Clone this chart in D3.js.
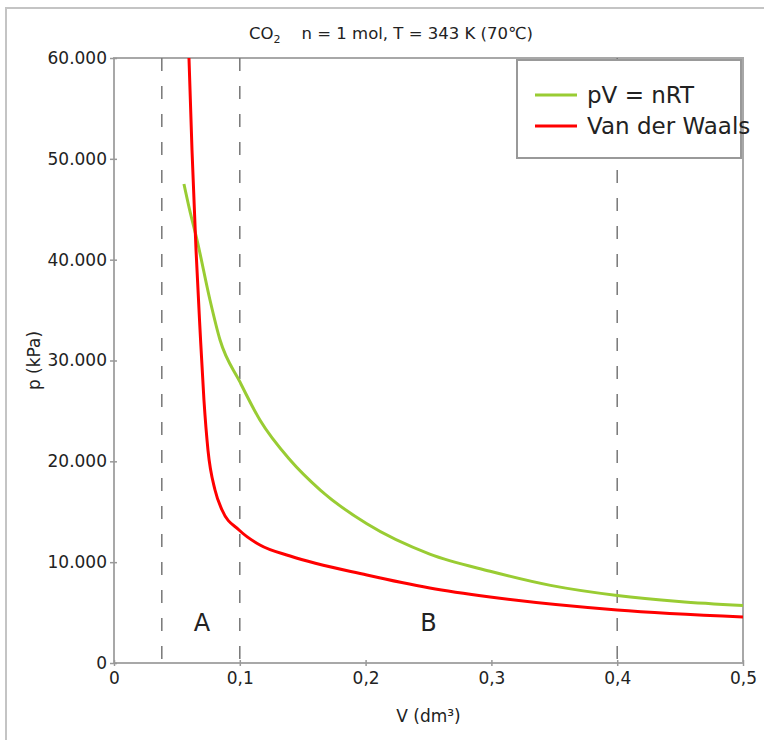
<!DOCTYPE html>
<html>
<head>
<meta charset="utf-8">
<script src="https://cdn.jsdelivr.net/npm/d3@7"></script>
<style>
	body { margin: 0; background: #fff; }
	svg text { font-family: 'DejaVu Sans', sans-serif; fill: #222; }
</style>
</head>
<body>
<div id="vis"></div>
<script>
// values (V in dm3, p in kPa)
var idealV = [0.0556, 0.060, 0.066, 0.0763, 0.0843, 0.100, 0.116, 0.140, 0.164, 0.201, 0.251, 0.299, 0.347, 0.400, 0.449, 0.500];
var idealP = [47500, 45000, 41950, 36000, 32030, 27900, 24100, 20130, 17150, 13800, 10800, 9100, 7700, 6700, 6100, 5700];

var vdwV = [0.0596, 0.062, 0.0652, 0.0684, 0.0715, 0.0747, 0.0803, 0.0859, 0.0994, 0.116, 0.140, 0.201, 0.251, 0.299, 0.400, 0.500];
var vdwP = [60000, 50880, 40960, 33020, 26080, 21120, 17160, 15170, 13190, 11700, 10610, 8727, 7440, 6545, 5256, 4562];

var xTicks = [0, 0.1, 0.2, 0.3, 0.4, 0.5];
var yTicks = [0, 10000, 20000, 30000, 40000, 50000, 60000];
var dashV = [0.038, 0.1, 0.4];
var regionNames = ['A', 'B'];
var regionV = [0.07, 0.25];
var seriesNames = ['pV = nRT', 'Van der Waals'];
var seriesColors = ['#99cc33', '#ff0000'];

var width = 764,
	height = 740;

var margin = { left: 114, top: 58, right: 21, bottom: 77 };
var drawWidth = width - margin.left - margin.right,
	drawHeight = height - margin.top - margin.bottom;

var loc = d3.formatLocale({ decimal: ',', thousands: '.', grouping: [3], currency: ['', ''] });

var svg = d3.select('#vis')
	.append('svg')
	.attr('width', width)
	.attr('height', height);

// outer frame
svg.append('path')
	.attr('d', 'M6,740V8H764')
	.attr('fill', 'none')
	.attr('stroke', '#c4c4c4')
	.attr('stroke-width', 2);

var g = svg.append('g')
	.attr('transform', 'translate(' + margin.left + ',' + margin.top + ')');

var xScale = d3.scaleLinear().domain([0, 0.5]).range([0, drawWidth]);
var yScale = d3.scaleLinear().domain([0, 60000]).range([drawHeight, 0]);

// plot frame
g.append('rect')
	.attr('width', drawWidth)
	.attr('height', drawHeight)
	.attr('fill', 'none')
	.attr('stroke', '#a8a8a8')
	.attr('stroke-width', 2);

// dashed lines
g.selectAll('.dash')
	.data(dashV)
	.enter().append('line')
	.attr('class', 'dash')
	.attr('x1', function(d) { return xScale(d); })
	.attr('x2', function(d) { return xScale(d); })
	.attr('y1', 0)
	.attr('y2', drawHeight)
	.attr('stroke', '#777')
	.attr('stroke-width', 1.5)
	.attr('stroke-dasharray', '13,15');

// axes
var xAxis = d3.axisBottom(xScale)
	.tickValues(xTicks)
	.tickSizeInner(3)
	.tickSizeOuter(0)
	.tickPadding(6)
	.tickFormat(loc.format('.1~f'));

var yAxis = d3.axisLeft(yScale)
	.tickValues(yTicks)
	.tickSizeInner(4)
	.tickSizeOuter(0)
	.tickPadding(3)
	.tickFormat(loc.format(','));

var xg = g.append('g')
	.attr('transform', 'translate(0,' + drawHeight + ')')
	.call(xAxis);
var yg = g.append('g').call(yAxis);

[xg, yg].forEach(function(ax) {
	ax.select('.domain').remove();
	ax.selectAll('text').attr('font-size', 17).attr('fill', '#222');
	ax.selectAll('line').attr('stroke', '#999').attr('stroke-width', 1.5);
});
xg.selectAll('line').attr('y1', -3);
yg.selectAll('line').attr('x2', 3).attr('x1', -4);

// curves
var line = d3.line()
	.x(function(d) { return xScale(d[0]); })
	.y(function(d) { return yScale(d[1]); })
	.curve(d3.curveMonotoneX);

var series = [
	d3.zip(idealV, idealP),
	d3.zip(vdwV, vdwP)
];

g.selectAll('.curve')
	.data(series)
	.enter().append('path')
	.attr('class', 'curve')
	.attr('d', line)
	.attr('fill', 'none')
	.attr('stroke', function(d, i) { return seriesColors[i]; })
	.attr('stroke-width', 3);

// region labels
g.selectAll('.region')
	.data(regionNames)
	.enter().append('text')
	.attr('class', 'region')
	.attr('x', function(d, i) { return xScale(regionV[i]); })
	.attr('y', yScale(3200))
	.attr('text-anchor', 'middle')
	.attr('font-size', 24)
	.text(function(d) { return d; });

// legend
var legend = svg.append('g')
	.attr('transform', 'translate(517,60)');

legend.append('rect')
	.attr('width', 224)
	.attr('height', 98)
	.attr('fill', '#fff')
	.attr('stroke', '#999')
	.attr('stroke-width', 2);

var item = legend.selectAll('.item')
	.data(seriesNames)
	.enter().append('g')
	.attr('class', 'item')
	.attr('transform', function(d, i) { return 'translate(0,' + (35 + i * 31) + ')'; });

item.append('line')
	.attr('x1', 18)
	.attr('x2', 60)
	.attr('stroke', function(d, i) { return seriesColors[i]; })
	.attr('stroke-width', 3);

item.append('text')
	.attr('x', 70)
	.attr('dy', '0.35em')
	.attr('font-size', 23)
	.text(function(d) { return d; });

// title
var title = svg.append('text')
	.attr('x', 391)
	.attr('y', 39)
	.attr('text-anchor', 'middle')
	.attr('font-size', 16.5);
title.append('tspan').text('CO');
title.append('tspan').attr('font-size', 11).attr('dy', 4).text('2');
title.append('tspan').attr('dy', -4).attr('xml:space', 'preserve').text('    n = 1 mol, T = 343 K (70\u2103)');

// axis titles
svg.append('text')
	.attr('x', margin.left + xScale(0.25))
	.attr('y', 722)
	.attr('text-anchor', 'middle')
	.attr('font-size', 17)
	.text('V (dm\u00b3)');

svg.append('text')
	.attr('transform', 'translate(40,' + (margin.top + yScale(30000)) + ') rotate(-90)')
	.attr('text-anchor', 'middle')
	.attr('font-size', 17)
	.text('p (kPa)');
</script>
</body>
</html>
